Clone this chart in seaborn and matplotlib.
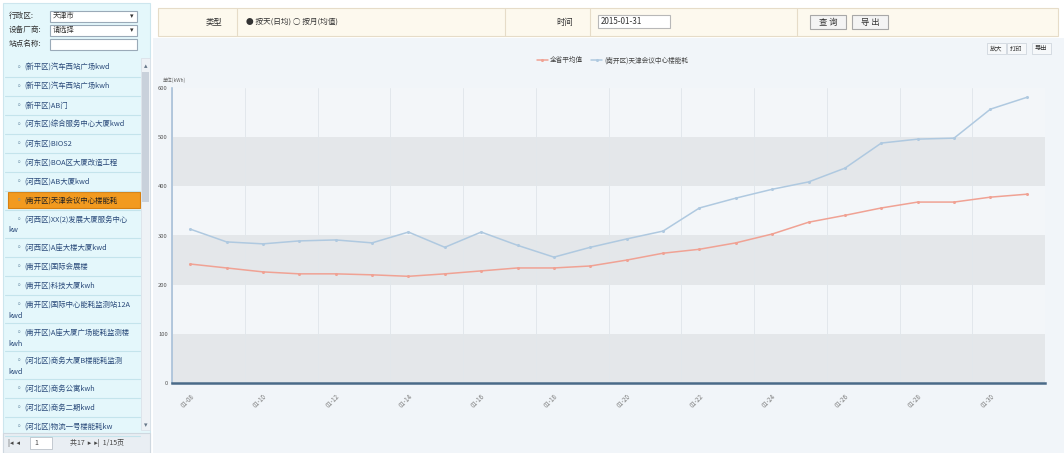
import matplotlib
matplotlib.use('Agg')
import matplotlib.pyplot as plt
import matplotlib.patches as mpatches
import seaborn as sns
import pandas as pd

sns.set_theme(style='white')
plt.rcParams['font.family'] = ['Noto Sans CJK SC', 'DejaVu Sans']

# chart data (daily values)
day_labels = ['01-08', '01-10', '01-12', '01-14', '01-16', '01-18',
              '01-20', '01-22', '01-24', '01-26', '01-28', '01-30']
province_avg = [242, 234, 226, 222, 222, 220, 217, 222, 228, 234, 234, 238,
                250, 264, 272, 285, 303, 327, 341, 356, 368, 368, 378, 384]
site_values = [313, 287, 283, 289, 291, 285, 307, 276, 307, 280, 256, 276,
               293, 309, 356, 376, 394, 409, 437, 488, 496, 498, 557, 581]
series_names = ['全省平均值', '(南开区)天津会议中心楼能耗']
y_ticks = [0, 100, 200, 300, 400, 500, 600]

# sidebar list
site_list = ['(新平区)汽车西站广场kwd', '(新平区)汽车西站广场kwh', '(新平区)AB门',
             '(河东区)综合服务中心大厦kwd', '(河东区)BIOS2', '(河东区)BOA区大厦改造工程',
             '(河西区)AB大厦kwd', '(南开区)天津会议中心楼能耗',
             '(河西区)XX(2)发展大厦服务中心\nkw', '(河西区)A座大楼大厦kwd',
             '(南开区)国际会展楼', '(南开区)科技大厦kwh',
             '(南开区)国际中心能耗监测站12A\nkwd', '(南开区)A座大厦广场能耗监测楼\nkwh',
             '(河北区)商务大厦B楼能耗监测\nkwd', '(河北区)商务公寓kwh',
             '(河北区)商务二期kwd', '(河北区)物流一号楼能耗kw', '(河北区)物流二号楼能耗kw']
selected_site = 7

W, H = 1064, 453
fig = plt.figure(figsize=(W / 100, H / 100), dpi=100)
fig.patch.set_facecolor('white')

# background axes in pixel coordinates for the page ui
bg = fig.add_axes([0, 0, 1, 1])
bg.set_xlim(0, W)
bg.set_ylim(H, 0)
bg.axis('off')
bg.set_zorder(0)


def box(x, y, w, h, fc, ec='none', lw=0.8):
    bg.add_patch(mpatches.Rectangle((x, y), w, h, facecolor=fc, edgecolor=ec, lw=lw))


# sidebar
box(3, 3, 147, 450, '#e4f7fb', '#cde6ee')
filters = [('行政区:', '天津市'), ('设备厂商:', '请选择'), ('站点名称:', '')]
for i, (lab, val) in enumerate(filters):
    yy = 16 + i * 14
    bg.text(9, yy, lab, fontsize=5.5, va='center', color='#333333')
    box(50, yy - 5.5, 87, 11, 'white', '#9aaab8')
    if val:
        bg.text(53, yy, val, fontsize=5.2, va='center', color='#333333')
        bg.text(133, yy, '▾', fontsize=5, va='center', ha='right', color='#333333')

y = 58
for i, name in enumerate(site_list):
    two = '\n' in name
    h = 28 if two else 19
    if i == selected_site:
        box(8, y + 1, 132, h - 3, '#f29a1f', '#d88010')
        color = '#222222'
    else:
        color = '#2a4a7a'
    bg.plot([5, 140], [y + h, y + h], color='#c4e4ec', lw=0.8)
    first = name.split('\n')[0]
    bg.text(14, y + 9.5, '◦', fontsize=6, va='center', color='#7a9ab0')
    bg.text(24, y + 9.5, first, fontsize=5.3, va='center', color=color)
    if two:
        bg.text(8, y + 20.5, name.split('\n')[1], fontsize=5.3, va='center', color=color)
    y += h
    if y > 430:
        break

# scrollbar
box(141, 58, 9, 372, '#eef2f6', '#d8dee6', 0.5)
box(142, 72, 7, 130, '#c9d1db')
bg.text(145.5, 66, '▴', fontsize=5, ha='center', va='center', color='#667788')
bg.text(145.5, 425, '▾', fontsize=5, ha='center', va='center', color='#667788')

# pager
box(3, 433, 147, 20, '#e9eef3', '#cfd8e0')
box(30, 437, 22, 12, 'white', '#b0b8c0', 0.5)
bg.text(8, 443, '|◂  ◂', fontsize=5, va='center', color='#444444')
bg.text(34, 443, '1', fontsize=5, va='center', color='#444444')
bg.text(70, 443, '共17  ▸  ▸|  1/15页', fontsize=5, va='center', color='#444444')

# top toolbar
box(158, 8, 900, 28, '#fdf9ee', '#e6dcc8')
for xx in [237, 505, 590, 797]:
    bg.plot([xx, xx], [8, 36], color='#e6dcc8', lw=0.8)
bg.text(214, 22, '类型', fontsize=6, va='center', ha='center', color='#333333')
bg.text(246, 22, '● 按天(日均) ○ 按月(均值)', fontsize=5.5, va='center', color='#333333')
bg.text(565, 22, '时间', fontsize=6, va='center', ha='center', color='#333333')
box(598, 15, 72, 13, 'white', '#b8b8b8')
bg.text(601, 22, '2015-01-31', fontsize=5.8, va='center', color='#333333')
for xx, lab in [(810, '查 询'), (852, '导 出')]:
    box(xx, 15, 36, 14, '#f4f4f4', '#a8a8a8')
    bg.text(xx + 18, 22, lab, fontsize=6, va='center', ha='center', color='#333333')

# chart page area
box(153, 38, 911, 415, '#f1f5f9')
for xx, lab in [(996, '放大'), (1016, '打印'), (1041, '导出')]:
    box(xx - 9, 43, 19 if len(lab) == 2 else 18, 11, '#f6f8fa', '#c8d0d8', 0.5)
    bg.text(xx, 48.5, lab, fontsize=4.5, ha='center', va='center', color='#333333')
bg.text(163, 80, '单位(kWh)', fontsize=3.5, va='center', color='#666666')

# plot axes
left, right, top, bottom = 172, 1045, 88, 383
ax = fig.add_axes([left / W, (H - bottom) / H, (right - left) / W, (bottom - top) / H])
ax.set_zorder(2)
ax.set_facecolor('#f3f6f9')
for lo in y_ticks[:-1:2]:
    ax.axhspan(lo, lo + 100, color='#e4e7ea', lw=0, zorder=0)

df = pd.DataFrame({'idx': range(len(site_values)),
                   series_names[0]: province_avg,
                   series_names[1]: site_values})
long_df = df.melt(id_vars='idx', var_name='series', value_name='value')
sns.lineplot(data=long_df, x='idx', y='value', hue='series', ax=ax,
             palette={series_names[0]: '#f0a294', series_names[1]: '#afc9e0'},
             marker='o', markersize=2.2, markeredgewidth=0, linewidth=1.1)

ax.set_xlim(-0.5, 23.5)
ax.set_ylim(0, 600)
ax.set_yticks(y_ticks)
ax.set_yticklabels([str(v) for v in y_ticks], fontsize=4.2, color='#555555')
ax.set_xticks(range(0, 24, 2))
ax.set_xticklabels(day_labels, rotation=45, ha='right', rotation_mode='anchor',
                   fontsize=4.5, color='#777777')
ax.set_xticks([x - 0.5 for x in range(0, 25, 2)], minor=True)
ax.tick_params(axis='x', which='major', length=0, pad=7)
ax.tick_params(axis='x', which='minor', length=3, width=3.5, color='#4a6a88', direction='out')
ax.tick_params(axis='y', length=0, pad=3)
ax.grid(which='minor', axis='x', color='#e2e7ec', lw=0.7)
ax.set_xlabel('')
ax.set_ylabel('')
ax.spines['top'].set_visible(False)
ax.spines['right'].set_visible(False)
ax.spines['left'].set_color('#a8c0d8')
ax.spines['left'].set_linewidth(1.2)
ax.spines['bottom'].set_color('#4a6a88')
ax.spines['bottom'].set_linewidth(1.8)

leg = ax.legend(loc='lower center', bbox_to_anchor=(0.505, 1.06), ncol=2, frameon=False,
                fontsize=4.8, handlelength=1.6, columnspacing=1.2, handletextpad=0.4)
for t in leg.get_texts():
    t.set_color('#444444')

fig.savefig('out.png', dpi=100)
